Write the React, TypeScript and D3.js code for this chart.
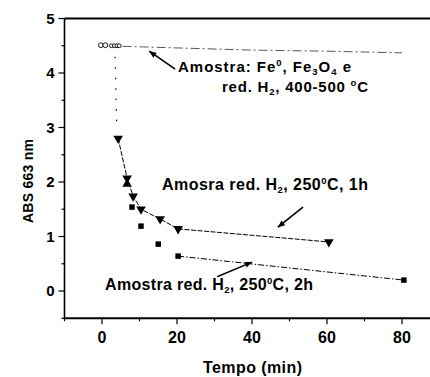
import React from "react";
import * as d3 from "d3";

// ---- data ----
const xTicks = [0, 20, 40, 60, 80];
const xMinorTicks = [-10, 10, 30, 50, 70, 90];
const yTicks = [0, 1, 2, 3, 4, 5];
const yMinorTicks = [-0.5, 0.5, 1.5, 2.5, 3.5, 4.5];

// Amostra: Fe0, Fe3O4 e red. H2 400-500 C (open circles + dashed trend)
const feTimes = [-0.3, 0.9, 2.5, 3.3, 4.0, 4.6];
const feValues = [4.51, 4.51, 4.5, 4.5, 4.5, 4.5];
const feLineTimes = [5.5, 20, 40, 60, 80];
const feLineValues = [4.49, 4.46, 4.42, 4.4, 4.37];
const trailTimes = [3.5, 3.9];
const trailValues = [4.3, 3.1];

// Amostra red. H2 250C 1h (down triangles)
const h1Times = [4.3, 6.7, 8.3, 10.4, 15.5, 20.3, 60.5];
const h1Values = [2.8, 2.07, 1.74, 1.5, 1.32, 1.14, 0.9];

// Amostra red. H2 250C 2h (squares)
const h2Times = [6.7, 8.0, 10.4, 15.0, 20.3, 80.5];
const h2Values = [1.98, 1.54, 1.19, 0.86, 0.64, 0.2];
const h2LineTimes = [20.3, 80.5];
const h2LineValues = [0.64, 0.2];

// annotation arrows in data units
const arrowTails = [[19.5, 4.07], [53.6, 1.54], [30.7, 0.26]];
const arrowHeads = [[12.6, 4.4], [46.9, 1.17], [40.0, 0.53]];

type Seg = { s: string; m: "n" | "sup" | "sub" };
const label1: Seg[] = [
  { s: "Amostra: Fe", m: "n" }, { s: "0", m: "sup" }, { s: ", Fe", m: "n" },
  { s: "3", m: "sub" }, { s: "O", m: "n" }, { s: "4", m: "sub" }, { s: " e", m: "n" },
];
const label2: Seg[] = [
  { s: "red. H", m: "n" }, { s: "2", m: "sub" }, { s: ", 400-500 ", m: "n" },
  { s: "o", m: "sup" }, { s: "C", m: "n" },
];
const label3: Seg[] = [
  { s: "Amosra red. H", m: "n" }, { s: "2", m: "sub" }, { s: ", 250", m: "n" },
  { s: "0", m: "sup" }, { s: "C, 1h", m: "n" },
];
const label4: Seg[] = [
  { s: "Amostra red. H", m: "n" }, { s: "2", m: "sub" }, { s: ", 250", m: "n" },
  { s: "0", m: "sup" }, { s: "C, 2h", m: "n" },
];

const FONT = "'Liberation Sans', Arial, Helvetica, sans-serif";

function Rich({ segs, x, y, len, size }: { segs: Seg[]; x: number; y: number; len: number; size: number }) {
  const off = (m: string) => (m === "sup" ? -6 : m === "sub" ? 3 : 0);
  let prev = 0;
  return (
    <text x={x} y={y} textLength={len} fontSize={size}>
      {segs.map((g, i) => {
        const o = off(g.m);
        const dy = o - prev;
        prev = o;
        return (
          <tspan key={i} dy={dy} fontSize={g.m === "n" ? undefined : 9.5}>{g.s}</tspan>
        );
      })}
    </text>
  );
}

export default function App() {
  const W = 430, H = 377;
  const x = d3.scaleLinear().domain([-10, 90]).range([64.5, 439.5]);
  const y = d3.scaleLinear().domain([-0.5, 5]).range([318.25, 18.5]);
  const line = d3.line<[number, number]>().x(d => x(d[0])).y(d => y(d[1]));

  const tri = d3.symbol().type(d3.symbolTriangle).size(40)();
  const sq = d3.symbol().type(d3.symbolSquare).size(30)();

  const x0 = x(-10), x1 = x(90), yb = y(-0.5), yt = y(5);

  const arrowHead = (tx: number, ty: number, hx: number, hy: number) => {
    const ang = Math.atan2(hy - ty, hx - tx);
    const L = 7, w = 3;
    const bx = hx - L * Math.cos(ang), by = hy - L * Math.sin(ang);
    const px = -Math.sin(ang) * w, py = Math.cos(ang) * w;
    return `M${hx},${hy}L${bx + px},${by + py}L${bx - px},${by - py}Z`;
  };

  return (
    <svg width={W} height={H} style={{ position: "absolute", left: 0, top: 0, background: "#fff" }}
      fontFamily={FONT}>
      <rect width={W} height={H} fill="#fff" />
      {/* frame */}
      <g stroke="#000" fill="none">
        <line x1={x0} y1={yt} x2={x1} y2={yt} strokeWidth={1.8} />
        <line x1={x0} y1={yt} x2={x0} y2={yb} strokeWidth={1.6} />
        <line x1={x0} y1={yb} x2={x1} y2={yb} strokeWidth={1.8} />
        <line x1={x1} y1={yt} x2={x1} y2={yb} strokeWidth={1.6} />
      </g>
      {/* ticks */}
      <g stroke="#000" strokeWidth={1.2}>
        {yTicks.map(v => <line key={"yt" + v} x1={x0 - 6} x2={x0} y1={y(v)} y2={y(v)} />)}
        {yMinorTicks.map(v => <line key={"ym" + v} x1={x0 - 3} x2={x0} y1={y(v)} y2={y(v)} />)}
        {xTicks.map(v => <line key={"xt" + v} x1={x(v)} x2={x(v)} y1={yb} y2={yb + 6} />)}
        {xMinorTicks.map(v => <line key={"xm" + v} x1={x(v)} x2={x(v)} y1={yb} y2={yb + 3} />)}
      </g>
      <g fontSize={15} fontWeight="bold" fill="#000">
        {yTicks.map(v => (
          <text key={"yl" + v} x={x0 - 10} y={y(v)} dy="0.36em" textAnchor="end">{v}</text>
        ))}
        {xTicks.map(v => (
          <text key={"xl" + v} x={x(v)} y={yb + 25} textAnchor="middle" fontSize={16}>{v}</text>
        ))}
      </g>
      {/* axis titles */}
      <text x={252.5} y={373} textAnchor="middle" fontSize={16} fontWeight="bold" textLength={99}>Tempo (min)</text>
      <text transform={`translate(33,181) rotate(-90)`} textAnchor="middle" fontSize={14} fontWeight="bold" textLength={84}>ABS 663 nm</text>

      {/* Fe series */}
      <path d={line(trailTimes.map((t, i) => [t, trailValues[i]]) as any) || ""} fill="none" stroke="#000"
        strokeWidth={1.2} strokeDasharray="1.5,9" />
      <path d={line(feLineTimes.map((t, i) => [t, feLineValues[i]]) as any) || ""} fill="none" stroke="#444"
        strokeWidth={0.9} strokeDasharray="9,3,2,3" />
      {feTimes.map((t, i) => (
        <circle key={"fe" + i} cx={x(t)} cy={y(feValues[i])} r={i < 2 ? 2.4 : 1.9} fill="#fff" stroke="#000" strokeWidth={0.9} />
      ))}

      {/* 1h series */}
      <path d={line(h1Times.map((t, i) => [t, h1Values[i]]) as any) || ""} fill="none" stroke="#000"
        strokeWidth={1} strokeDasharray="5,1.5" />
      {h1Times.map((t, i) => (
        <path key={"h1" + i} d={tri} transform={`translate(${x(t)},${y(h1Values[i])}) rotate(180)`} fill="#000" />
      ))}

      {/* 2h series */}
      <path d={line(h2LineTimes.map((t, i) => [t, h2LineValues[i]]) as any) || ""} fill="none" stroke="#000"
        strokeWidth={1} strokeDasharray="6,2,1.5,2" />
      {h2Times.map((t, i) => i === 0 ? (
        <path key={"h2" + i} d={tri} transform={`translate(${x(t)},${y(h2Values[i]) + 1})`} fill="#000" />
      ) : (
        <path key={"h2" + i} d={sq} transform={`translate(${x(t)},${y(h2Values[i])})`} fill="#000" />
      ))}

      {/* arrows */}
      {arrowTails.map((tl, i) => {
        const hd = arrowHeads[i];
        const tx = x(tl[0]), ty = y(tl[1]), hx = x(hd[0]), hy = y(hd[1]);
        return (
          <g key={"ar" + i}>
            <line x1={tx} y1={ty} x2={hx} y2={hy} stroke="#000" strokeWidth={1.6} />
            <path d={arrowHead(tx, ty, hx, hy)} fill="#000" />
          </g>
        );
      })}

      {/* annotations */}
      <g fontWeight="bold" fill="#000">
        <Rich segs={label1} x={178} y={72} len={173} size={15} />
        <Rich segs={label2} x={222} y={92} len={146} size={15} />
        <Rich segs={label3} x={162} y={190} len={206} size={16} />
        <Rich segs={label4} x={105} y={290} len={208} size={16} />
      </g>
    </svg>
  );
}
